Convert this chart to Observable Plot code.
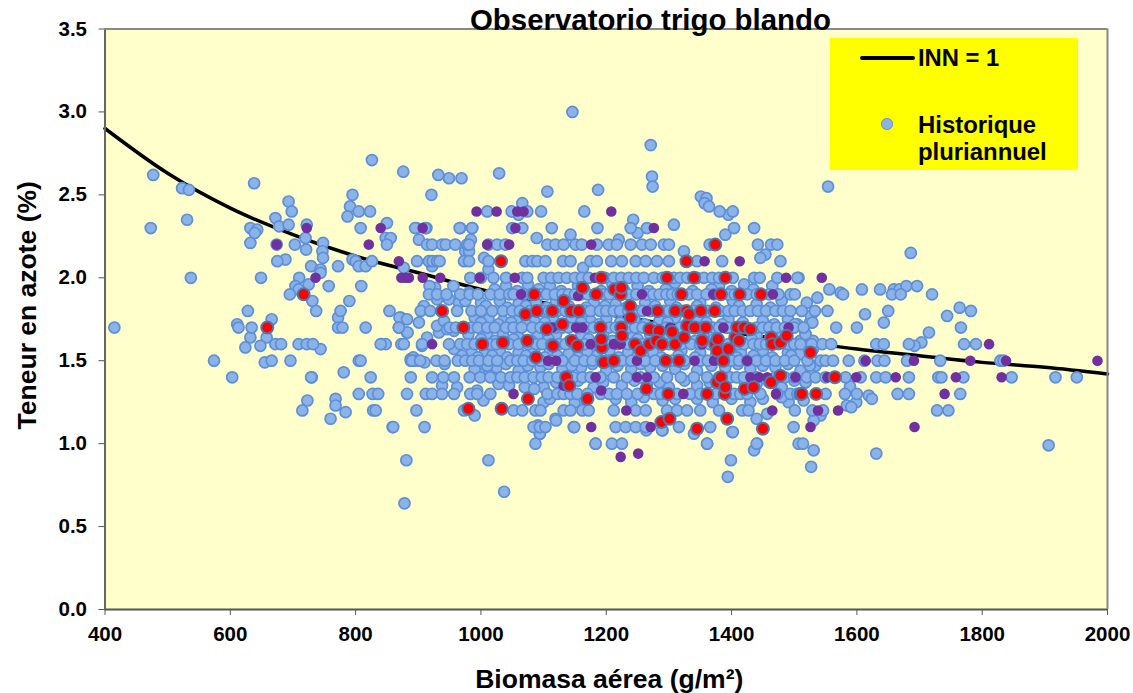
<!DOCTYPE html>
<html><head><meta charset="utf-8">
<style>
html,body{margin:0;padding:0;background:#fff;width:1133px;height:693px;overflow:hidden}
#wrap{position:relative;width:1133px;height:693px;font-family:"Liberation Sans",Arial,sans-serif;color:#000}
#wrap svg{position:absolute;left:0;top:0;background:transparent}
.ov{position:absolute;font-weight:bold;white-space:nowrap}
</style>
<script src="https://cdn.jsdelivr.net/npm/d3@7"></script>
<script src="https://cdn.jsdelivr.net/npm/@observablehq/plot@0.6"></script>
</head><body><div id="wrap"></div>
<script>
const xTicks=[400,600,800,1000,1200,1400,1600,1800,2000];
const yTicks=[0,0.5,1,1.5,2,2.5,3,3.5];
const curveX=[400,500,600,700,800,900,1000,1100,1200,1300,1400,1500,1600,1700,1800,1900,2000];
const curveY=[2.90,2.63,2.42,2.26,2.13,2.03,1.93,1.85,1.78,1.72,1.67,1.62,1.57,1.53,1.49,1.46,1.42];

const r24=[1010,1049,1074,1096,1165,1381,1402];
const r23=[895,911,966,986,1050,1066,1113,1186,1239,1265,1404,1436];
const r22=[914,922,938,944,959,981,1012,1026,1039,1106,1119,1132,1151,1161,1185,1204,1217,1239,1257,1271,1292,1300,1365,1442,1463,1473];
const r21=[898,917,923,930,934,973,981,1012,1071,1082,1090,1103,1131,1143,1175,1185,1208,1225,1247,1263,1281,1300,1345,1385,1478];
const r20=[983,1000,1020,1040,1066,1074,1100,1112,1124,1137,1150,1161,1172,1198,1212,1224,1236,1248,1260,1276,1290,1308,1318,1329,1345,1356,1369,1380,1402,1436,1445,1473,1505];
const r19=[917,930,945,967,982,995,1015,1030,1045,1052,1068,1080,1095,1105,1118,1130,1140,1150,1160,1170,1182,1195,1205,1222,1235,1248,1265,1275,1285,1296,1305,1314,1332,1345,1360,1372,1395,1405,1425,1440,1460,1475,1494,1501,1578,1656,1670,1720];
const r18=[737,776,854,904,919,962,985,1000,1018,1035,1050,1062,1078,1098,1108,1122,1135,1150,1165,1175,1190,1200,1212,1222,1235,1248,1258,1270,1292,1300,1320,1340,1362,1382,1395,1405,1418,1430,1442,1455,1470,1482,1494,1512,1533,1553,1650,1782];
const r17=[415,613,634,772,779,816,869,950,960,972,985,995,1010,1022,1040,1052,1065,1082,1095,1108,1120,1130,1140,1155,1168,1180,1191,1205,1215,1224,1235,1246,1258,1275,1295,1318,1332,1350,1370,1380,1395,1410,1425,1440,1450,1460,1472,1485,1500,1515,1567,1600,1766];
const r16=[672,681,709,722,732,841,848,873,840,877,906,949,967,978,990,1002,1015,1025,1045,1060,1075,1088,1098,1112,1125,1135,1150,1165,1182,1200,1218,1235,1246,1258,1270,1288,1300,1310,1320,1335,1350,1365,1380,1395,1410,1420,1435,1445,1455,1475,1490,1500,1510,1528,1545,1559,1631,1643,1683,1771,1790];
const r15=[574,666,696,805,808,888,890,903,929,942,963,975,986,997,1012,1026,1047,1058,1068,1082,1095,1112,1130,1150,1165,1178,1192,1205,1225,1240,1262,1278,1295,1305,1325,1350,1362,1385,1400,1412,1425,1440,1455,1470,1485,1500,1521,1542,1550,1562,1587,1612,1633,1644,1680,1733,1829,1834];
const r14=[603,730,729,824,888,922,940,957,982,999,1015,1032,1047,1058,1070,1084,1097,1108,1122,1136,1148,1162,1175,1191,1212,1233,1255,1276,1297,1319,1340,1361,1380,1398,1408,1420,1440,1470,1485,1500,1520,1534,1550,1582,1606,1631,1646,1683,1730,1735,1770,1847,1917,1951];
const r13=[805,827,836,882,912,922,938,957,983,994,1015,1106,1122,1132,1143,1154,1170,1191,1205,1217,1233,1250,1276,1287,1313,1334,1350,1375,1404,1414,1425,1446,1473,1494,1505,1550,1581,1600,1665,1683,1765];
const r12=[715,828,832,897,973,1052,1066,1087,1095,1132,1143,1162,1172,1212,1247,1263,1297,1313,1329,1350,1380,1417,1427,1501,1529,1546,1728,1746];
const r11=[859,860,910,1084,1094,1103,1148,1149,1215,1231,1247,1263,1316,1366,1499];
const r10=[1087,1183,1209,1225,1361,1440,1507,1514];

const histLeft=[[477,2.62],[523,2.54],[534,2.53],[473,2.30],[531,2.35],[537,2.00],[638,2.57],[628,1.80],[611,1.72],[666,1.75],[632,1.64],[658,1.64],[624,1.58],[648,1.59],[655,1.49],[744,1.57],[781,1.43],[723,1.26],[768,1.27],[768,1.23],[784,1.19],[760,1.15],[632,2.30],[643,2.29],[639,2.27],[632,2.21],[672,2.36],[678,2.31],[693,2.32],[693,2.46],[698,2.40],[722,2.32],[674,2.20],[720,2.24],[703,2.20],[721,2.17],[688,2.11],[675,2.10],[748,2.21],[747,2.16],[748,2.12],[729,2.07],[744,2.05],[744,2.03],[772,2.07],[710,2.00],[649,2.00],[725,1.96],[704,1.95],[709,1.93],[717,1.90],[695,1.90],[731,1.86],[757,1.95],[809,1.95],[790,1.86],[772,1.76],[826,2.71],[876,2.64],[795,2.50],[791,2.43],[805,2.40],[823,2.40],[787,2.37],[808,2.30],[850,2.33],[848,2.24],[856,2.24],[850,2.20],[795,2.11],[800,2.10],[805,2.07],[816,2.07],[826,2.10],[877,2.06],[872,1.76],[881,1.75],[882,1.67],[888,1.51]];
const histMidLeft=[[897,2.30],[913,2.30],[901,2.23],[967,2.30],[986,2.30],[975,2.16],[981,2.16],[984,2.23],[978,2.20],[1005,2.12],[1012,2.05],[922,2.07],[927,1.94],[918,1.95],[930,1.87],[956,1.95],[981,1.91],[949,1.87],[965,1.85],[975,1.86],[909,1.83],[901,1.73],[870,1.76],[882,1.75],[869,1.70],[883,1.67],[933,1.67],[930,1.71],[941,1.74],[946,1.69],[957,1.68],[906,1.59],[914,1.64],[957,1.57],[892,1.52],[896,1.50],[910,1.49],[942,1.48],[998,1.42],[1014,1.43],[938,1.35],[962,1.34],[994,1.32],[1004,1.26],[990,1.17],[1028,1.36]];
const histTop=[[1146,3.00],[1271,2.80],[1273,2.61],[1274,2.55],[932,2.62],[949,2.60],[969,2.60],[1029,2.63],[921,2.50],[1106,2.52],[1187,2.53],[1351,2.49],[1360,2.48],[1357,2.45],[1364,2.43],[1395,2.38],[1066,2.45],[1060,2.38],[1243,2.35],[1308,2.32],[1143,2.26],[1250,2.27],[1390,2.26],[1089,2.24],[1220,2.23],[1324,2.16],[1454,2.14],[1446,2.12],[1163,2.06]];
const histCore=[[1040,1.95],[1075,1.96],[1110,1.95],[1155,1.95],[1210,1.96],[1250,1.95],[1310,1.97],[1380,1.95],[1420,1.96],[1465,1.95],[1000,1.85],[1030,1.86],[1060,1.84],[1088,1.85],[1120,1.86],[1180,1.85],[1215,1.84],[1262,1.85],[1302,1.86],[1350,1.85],[1402,1.86],[1440,1.84],[1480,1.86],[1520,1.85],[990,1.76],[1012,1.75],[1035,1.74],[1060,1.75],[1085,1.74],[1115,1.75],[1145,1.76],[1175,1.74],[1200,1.75],[1245,1.75],[1285,1.74],[1310,1.76],[1345,1.75],[1395,1.75],[1450,1.74],[1490,1.75],[1525,1.73],[980,1.66],[1010,1.65],[1035,1.66],[1060,1.64],[1090,1.65],[1120,1.66],[1160,1.65],[1195,1.66],[1240,1.65],[1270,1.66],[1300,1.64],[1355,1.66],[1440,1.65],[1480,1.65],[1518,1.66],[1510,1.62],[985,1.55],[1005,1.54],[1030,1.56],[1060,1.55],[1085,1.56],[1110,1.55],[1140,1.54],[1170,1.55],[1205,1.56],[1235,1.55],[1275,1.55],[1320,1.56],[1350,1.55],[1415,1.55],[1450,1.56],[1490,1.55],[1509,1.54],[990,1.45],[1025,1.46],[1060,1.44],[1095,1.46],[1130,1.45],[1160,1.46],[1200,1.44],[1240,1.45],[1270,1.46],[1310,1.45],[1345,1.44],[1390,1.46],[1430,1.45],[1470,1.46],[1510,1.44],[1534,1.47],[1100,1.34],[1135,1.35],[1180,1.34],[1225,1.35],[1265,1.36],[1300,1.34],[1345,1.35],[1440,1.36],[1480,1.34],[1518,1.37],[1100,1.25],[1150,1.25],[1240,1.25],[1290,1.26],[1370,1.25],[1430,1.25],[1491,1.25],[1119,1.15],[1440,1.15],[1457,1.18],[1120,1.14],[1091,1.11],[1094,1.06],[1264,1.08],[1290,1.08],[1289,1.08],[1340,1.06],[1401,1.07],[1402,1.07]];
const histFill=[[1022,1.93],[1058,1.92],[1092,1.93],[1128,1.92],[1165,1.93],[1192,1.92],[1228,1.93],[1268,1.92],[1295,1.93],[1338,1.92],[1368,1.93],[1400,1.92],[1435,1.93],[1008,1.83],[1042,1.82],[1072,1.83],[1105,1.82],[1140,1.83],[1168,1.82],[1198,1.83],[1232,1.82],[1278,1.83],[1312,1.82],[1345,1.83],[1375,1.82],[1412,1.83],[1462,1.82],[1000,1.73],[1028,1.72],[1048,1.73],[1072,1.72],[1102,1.73],[1128,1.72],[1160,1.73],[1188,1.72],[1222,1.73],[1262,1.72],[1298,1.73],[1328,1.72],[1360,1.73],[1385,1.72],[1418,1.73],[1468,1.72],[1505,1.72],[1000,1.63],[1022,1.62],[1052,1.63],[1080,1.62],[1108,1.63],[1142,1.62],[1172,1.63],[1210,1.62],[1250,1.63],[1285,1.62],[1318,1.63],[1342,1.62],[1372,1.63],[1405,1.62],[1432,1.63],[1468,1.62],[1530,1.62],[970,1.53],[995,1.52],[1018,1.53],[1042,1.52],[1072,1.53],[1102,1.52],[1122,1.53],[1155,1.52],[1185,1.53],[1220,1.52],[1250,1.53],[1288,1.52],[1315,1.53],[1342,1.52],[1375,1.53],[1408,1.52],[1435,1.53],[1465,1.52],[1495,1.53],[1010,1.47],[1040,1.48],[1075,1.47],[1108,1.48],[1145,1.47],[1178,1.48],[1218,1.47],[1255,1.48],[1290,1.47],[1325,1.48],[1368,1.47],[1410,1.48],[1450,1.47],[1490,1.48],[1525,1.47],[1120,1.37],[1155,1.38],[1195,1.37],[1245,1.38],[1285,1.37],[1325,1.38],[1365,1.37],[1420,1.38],[1460,1.37],[1500,1.38],[1045,1.35],[1070,1.34],[1085,1.33],[1110,1.27],[1165,1.27],[1215,1.27],[1260,1.28],[1310,1.27],[1345,1.27],[1400,1.27],[1450,1.27],[1480,1.28],[1515,1.26]];
const histRight=[[1554,2.55],[1686,2.15],[1507,2.00],[1537,1.88],[1556,1.93],[1574,1.91],[1608,1.93],[1637,1.93],[1659,1.93],[1668,1.93],[1679,1.95],[1696,1.95],[1764,1.82],[1744,1.77],[1613,1.78],[1527,1.77],[1529,1.73],[1501,1.72],[1643,1.73],[1715,1.67],[1703,1.61],[1692,1.59],[1530,1.57],[1510,1.62],[1518,1.66],[1518,1.37],[1589,1.345],[1619,1.29],[1624,1.27],[1599,1.25],[1584,1.23],[1591,1.22],[1542,1.17],[1531,1.14],[1531,0.96],[1527,0.86],[1631,0.94],[1906,0.99]];
const histLow=[[881,0.90],[1012,0.90],[878,0.64],[1037,0.71],[1094,1.06],[1399,0.90],[1394,0.80],[1441,1.00],[1436,0.96],[1361,1.00],[1183,1.00]];

const purpleX=[722,674,736,821,840,869,873,880,885,993,1025,1058,1068,1208,1276,907,1055,1010,1045,1176,1357,1413,1487,907,935,998,1054,1182,1544,1064,1155,1257,1371,1466,1265,1152,1162,1114,1302,1387,1491,922,1175,1212,1223,1353,1107,1120,1249,1341,1372,1425,1183,1249,1265,1430,1444,1457,1132,1192,1052,1323,1471,1232,1465,1176,1271,1223,1251,1811,1614,1691,1781,1838,1984,1502,1553,1599,1662,1758,1831,1740,1538,1570,1526,1692];
const purpleY=[2.30,2.20,2.00,2.20,2.30,2.10,2.00,2.00,2.00,2.40,2.40,2.40,2.40,2.40,2.30,2.30,2.30,2.20,2.20,2.20,2.10,2.10,2.00,2.00,2.00,2.00,2.00,2.00,2.00,1.90,1.89,1.90,1.90,1.90,1.80,1.70,1.70,1.70,1.70,1.70,1.70,1.60,1.60,1.60,1.60,1.60,1.50,1.50,1.50,1.50,1.50,1.50,1.40,1.40,1.40,1.40,1.40,1.40,1.35,1.32,1.30,1.30,1.30,1.20,1.20,1.10,1.10,0.92,0.94,1.60,1.50,1.50,1.50,1.50,1.50,1.40,1.40,1.40,1.40,1.40,1.40,1.30,1.20,1.20,1.10,1.10];

const redX=[659,717,938,980,972,1002,1033,1035,1032,1074,1071,1075,1085,1088,1089,1105,1114,1115,1130,1132,1136,1141,1144,1145,1154,1156,1162,1170,1184,1191,1192,1193,1192,1196,1212,1213,1223,1224,1224,1225,1238,1239,1246,1255,1264,1269,1269,1282,1284,1280,1288,1289,1295,1297,1299,1301,1305,1310,1310,1316,1320,1324,1328,1328,1329,1332,1340,1341,1345,1351,1353,1359,1361,1373,1374,1374,1377,1378,1377,1383,1383,1387,1389,1390,1390,1393,1395,1406,1409,1412,1413,1420,1421,1430,1435,1447,1450,1463,1465,1463,1478,1478,1488,1510,1512,1526,1535,1565];
const redY=[1.70,1.90,1.80,1.21,1.70,1.60,1.21,1.61,2.10,1.62,1.78,1.27,1.90,1.52,1.80,1.69,1.80,1.59,1.72,1.86,1.40,1.35,1.80,1.62,1.59,1.80,1.94,1.27,1.90,1.70,2.00,1.58,1.63,1.49,1.50,1.93,1.90,1.94,1.70,1.65,1.83,1.76,1.60,1.56,1.33,1.69,1.60,1.80,1.68,1.62,1.13,1.60,1.50,2.00,1.30,1.15,1.675,1.80,1.60,1.50,1.90,1.64,1.80,2.10,1.71,1.78,2.00,1.70,1.09,1.80,1.62,1.70,1.30,1.80,2.20,1.60,1.37,1.63,1.56,1.90,1.40,1.50,1.30,2.00,1.34,1.15,1.57,1.64,1.70,1.62,1.90,1.70,1.33,1.69,1.34,1.90,1.09,1.64,1.60,1.37,1.41,1.61,1.65,1.30,1.30,1.55,1.30,1.40];

const rows=[[2.4,r24],[2.3,r23],[2.2,r22],[2.1,r21],[2.0,r20],[1.9,r19],[1.8,r18],[1.7,r17],[1.6,r16],[1.5,r15],[1.4,r14],[1.3,r13],[1.2,r12],[1.1,r11],[1.0,r10]];
const blue=[...histLeft,...histMidLeft,...histTop,...histCore,...histFill,...histRight,...histLow];
rows.forEach(([y,xs])=>xs.forEach(x=>blue.push([x,y])));
const curve=curveX.map((x,i)=>[x,curveY[i]]);
const purple=purpleX.map((x,i)=>[x,purpleY[i]]);
const red=redX.map((x,i)=>[x,redY[i]]);

const chart=Plot.plot({
  width:1133,height:693,
  marginLeft:104.5,marginRight:26,marginTop:28.5,marginBottom:84,
  style:{fontFamily:'"Liberation Sans",Arial,sans-serif',background:"transparent"},
  x:{domain:[400,2000]},
  y:{domain:[0,3.5]},
  marks:[
    Plot.frame({fill:"#ffffcc",stroke:"none"}),
    Plot.axisX({ticks:xTicks,tickSize:6,tickPadding:11,stroke:"#555",tickFormat:d=>String(d),fontSize:20.5,fontWeight:"bold",fill:"#000",label:"Biomasa aérea (g/m²)",labelAnchor:"center",labelArrow:"none",labelOffset:78}),
    Plot.axisY({ticks:yTicks,tickSize:6,tickPadding:12,stroke:"#555",tickFormat:d=>d.toFixed(1),fontSize:20.5,fontWeight:"bold",fill:"#000",label:"Teneur en azote (%)",labelAnchor:"center",labelArrow:"none",labelOffset:88}),
    Plot.line(curve,{x:d=>d[0],y:d=>d[1],stroke:"#000",strokeWidth:3.5,curve:"monotone-x"}),
    Plot.dot(blue,{x:d=>d[0],y:d=>d[1],r:5.5,fill:"#8cb3e8",stroke:"#5c8fd8",strokeWidth:1.7}),
    Plot.dot(purple,{x:d=>d[0],y:d=>d[1],r:5.3,fill:"#7030a0",stroke:"none"}),
    Plot.dot(red,{x:d=>d[0],y:d=>d[1],r:6,fill:"#ff0000",stroke:"#4a7ab0",strokeWidth:2}),
    Plot.ruleY([0],{stroke:"#555",strokeWidth:2}),
    Plot.ruleX([400],{stroke:"#666",strokeWidth:2}),
    Plot.ruleY([3.5],{stroke:"#888",strokeWidth:2}),
    Plot.ruleX([2000],{stroke:"#888",strokeWidth:2})
  ]
});
const wrap=document.getElementById("wrap");
wrap.appendChild(chart);
const xl=chart.querySelector('[aria-label="x-axis label"]');
const yl=chart.querySelector('[aria-label="y-axis label"]');
[xl,yl].forEach(g=>{g.querySelectorAll("text").forEach(t=>{t.setAttribute("font-size","26.5");t.setAttribute("font-weight","bold");});});
xl.setAttribute("transform",(xl.getAttribute("transform")||"")+" translate(3,0)");
yl.setAttribute("transform",(yl.getAttribute("transform")||"")+" translate(0,-14)");
const html=`
<div class="ov" style="left:470px;top:4.5px;font-size:29.4px;line-height:30px">Observatorio trigo blando</div>
<div style="position:absolute;left:830px;top:38px;width:248px;height:132px;background:#ffff00"></div>
<div style="position:absolute;left:860px;top:56px;width:55px;height:4px;border-radius:2px;background:#000"></div>
<div class="ov" style="left:918px;top:45px;font-size:23.8px;line-height:26px">INN = 1</div>
<div style="position:absolute;left:881px;top:118px;width:9.5px;height:9.5px;border-radius:50%;background:#8cb3e8;border:1.5px solid #5c8fd8"></div>
<div class="ov" style="left:918px;top:110.5px;font-size:23.9px;line-height:27.5px">Historique<br>pluriannuel</div>`;
wrap.insertAdjacentHTML("beforeend",html);
</script></body></html>
